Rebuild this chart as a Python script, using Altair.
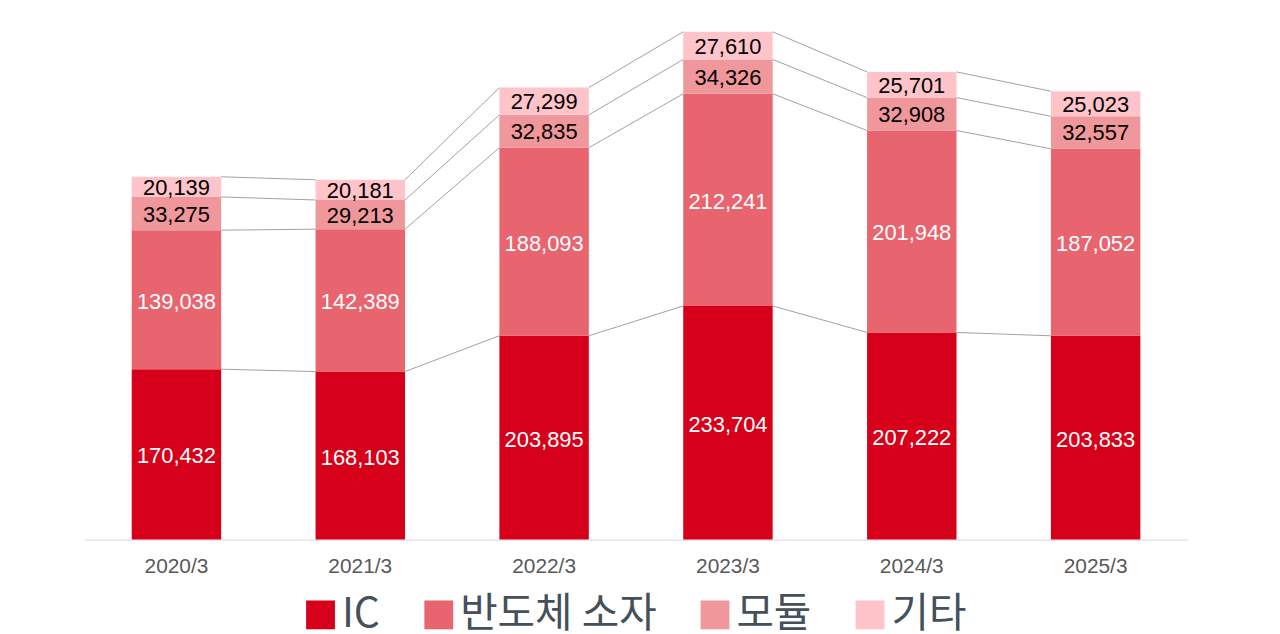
import altair as alt
import pandas as pd

categories = ["2020/3", "2021/3", "2022/3", "2023/3", "2024/3", "2025/3"]
series = ["IC", "반도체 소자", "모듈", "기타"]
ic = [170432, 168103, 203895, 233704, 207222, 203833]
semi = [139038, 142389, 188093, 212241, 201948, 187052]
module = [33275, 29213, 32835, 34326, 32908, 32557]
other = [20139, 20181, 27299, 27610, 25701, 25023]
colors = ["#d7001a", "#e8646e", "#f0979c", "#ffc3ca"]

values = [ic, semi, module, other]

W, H = 1110, 511
BAR_W = 90
n = len(categories)
step = W / n
p_inner = (step - BAR_W) / step
half = (BAR_W / 2) / step

rows = []
cum = [[0] * n for _ in series]
for i, c in enumerate(categories):
    base = 0
    for k, s in enumerate(series):
        v = values[k][i]
        rows.append({"cat": c, "idx": i, "series": s, "k": k, "v": v,
                     "mid": base + v / 2, "txt": f"{v:,}"})
        base += v
        cum[k][i] = base
df = pd.DataFrame(rows)
df_low = df[df["k"] < 2]
df_high = df[df["k"] >= 2]

conn = []
for k in range(len(series)):
    for i in range(n - 1):
        seg = f"{k}-{i}"
        conn.append({"seg": seg, "xp": i + half, "yp": cum[k][i]})
        conn.append({"seg": seg, "xp": i + 1 - half, "yp": cum[k][i + 1]})
cdf = pd.DataFrame(conn)

ymax = max(cum[-1])
yscale = alt.Scale(domain=[0, ymax], nice=False)
xband = alt.Scale(paddingInner=p_inner, paddingOuter=p_inner / 2)
hidden = alt.Axis(labels=False, ticks=False, domain=False, grid=False)


def xlin(field):
    return alt.X(field, scale=alt.Scale(domain=[-0.5, n - 0.5], nice=False, zero=False),
                 axis=hidden, title="")


bars = alt.Chart(df).mark_bar().encode(
    x=alt.X("cat:N", sort=categories, scale=xband, title="",
            axis=alt.Axis(orient="bottom", labelAngle=0, ticks=False, grid=False,
                          domainColor="#d9d9d9", domainWidth=1,
                          labelFont="Liberation Sans", labelFontSize=21,
                          labelColor="#595959", labelPadding=16)),
    y=alt.Y("v:Q", scale=yscale, axis=hidden, title=""),
    color=alt.Color("series:N", scale=alt.Scale(domain=series, range=colors), title="",
                    legend=alt.Legend(orient="none", direction="horizontal",
                                      legendX=217, legendY=566, symbolType="square",
                                      symbolSize=841, symbolStrokeWidth=0,
                                      labelFont="Noto Sans CJK KR", labelFontSize=41,
                                      labelColor="#44505a", columnPadding=38,
                                      labelOffset=1, labelLimit=400)),
    order=alt.Order("k:Q"),
)

lab_white = alt.Chart(df_low).mark_text(
    font="Liberation Sans", fontSize=22, baseline="middle", dy=2, color="white").encode(
    x=xlin("idx:Q"),
    y=alt.Y("mid:Q"),
    text=alt.Text("txt:N"),
)
lab_black = alt.Chart(df_high).mark_text(
    font="Liberation Sans", fontSize=22, baseline="middle", dy=1, color="black").encode(
    x=xlin("idx:Q"),
    y=alt.Y("mid:Q"),
    text=alt.Text("txt:N"),
)

links = alt.Chart(cdf).mark_line(color="#a0a0a0", strokeWidth=1).encode(
    x=xlin("xp:Q"),
    y=alt.Y("yp:Q"),
    detail="seg:N",
)

chart = alt.layer(links, bars, lab_white, lab_black).resolve_scale(
    x="independent"
).properties(
    width=W, height=H,
    autosize=alt.AutoSizeParams(type="none"),
    padding={"left": 77, "top": 22, "right": 85, "bottom": 92},
).configure_view(strokeWidth=0)

chart.save("out.html", embed_options={"renderer": "svg", "actions": False})
